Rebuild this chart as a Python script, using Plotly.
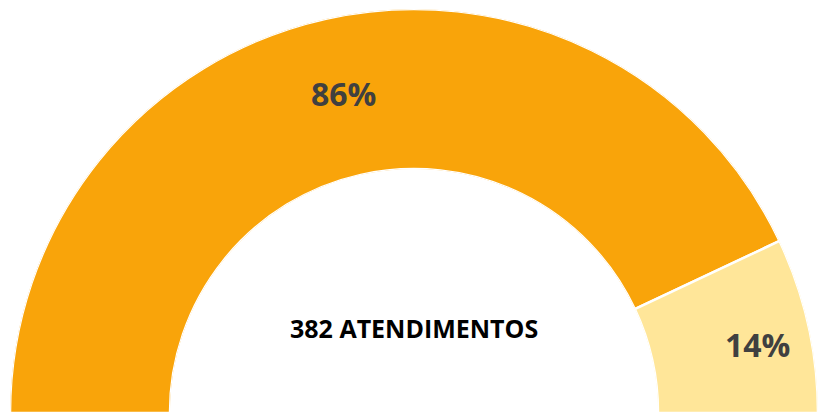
import plotly.graph_objects as go

categories = ["Categoria A", "Categoria B"]
percentages = [86, 14]
center_label = "382 ATENDIMENTOS"
colors = ["#F9A40A", "#FFE699"]

# half-donut: 100% maps onto 180 degrees, starting at the left (180°) going clockwise
total = sum(percentages)
widths = [p / total * 180 for p in percentages]
thetas = []
start = 180.0
for w in widths:
    thetas.append(start - w / 2)
    start -= w

# label placement (style): radial position and angular nudge for each label
label_r = [0.49, 0.66]
label_dtheta = [0, -2]

fig = go.Figure()
fig.add_trace(go.Barpolar(
    r=[1] * len(percentages),
    theta=thetas,
    width=widths,
    marker=dict(color=colors, line=dict(color="white", width=2.5)),
    hoverinfo="skip",
    showlegend=False,
))
fig.add_trace(go.Scatterpolar(
    r=label_r,
    theta=[t + d for t, d in zip(thetas, label_dtheta)],
    mode="text",
    text=[f"{p}%" for p in percentages],
    textfont=dict(family="Open Sans", size=32, color="#404040", weight="bold"),
    hoverinfo="skip",
    showlegend=False,
))

fig.update_layout(
    width=818, height=414,
    margin=dict(l=10, r=0, t=8, b=0),
    paper_bgcolor="white",
    plot_bgcolor="white",
    polar=dict(
        sector=[0, 180],
        hole=0.604,
        bgcolor="white",
        domain=dict(x=[0, 1], y=[0, 1]),
        radialaxis=dict(range=[0, 1], visible=False, showgrid=False),
        angularaxis=dict(visible=False, showgrid=False, direction="counterclockwise", rotation=0),
        barmode="overlay",
    ),
    annotations=[dict(
        text=center_label, x=0.5, y=0.213, xref="paper", yref="paper",
        showarrow=False, xanchor="center", yanchor="middle",
        font=dict(family="Open Sans", size=25, color="black", weight="bold"),
    )],
)

fig.write_html("out.html")
